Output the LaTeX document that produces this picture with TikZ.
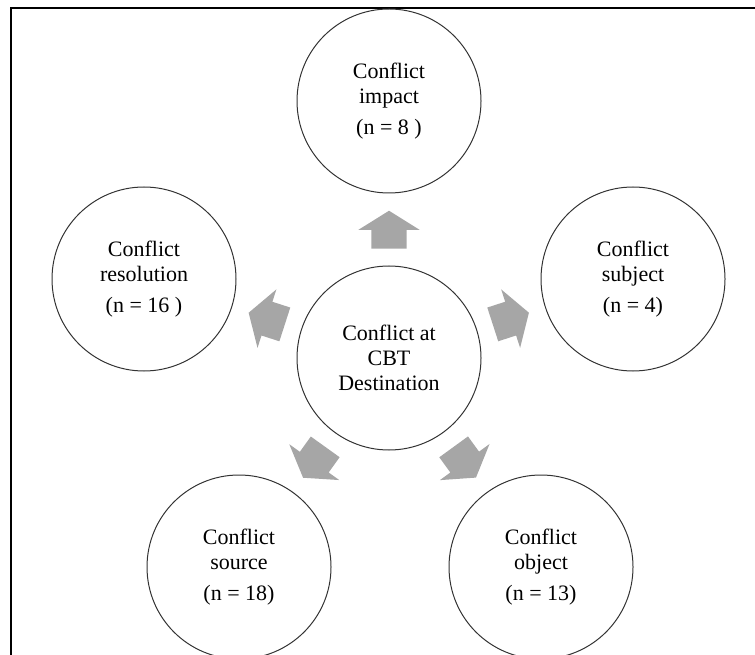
\documentclass[tikz,border=0pt]{standalone}
\usepackage{fontspec}
\setmainfont{Liberation Serif}
\usetikzlibrary{positioning,calc,shapes.arrows}
\definecolor{arrowgray}{HTML}{A6A6A6}
\definecolor{ringgray}{HTML}{333333}

\begin{document}
\begin{tikzpicture}[x=0.75pt,y=-0.75pt,
  every node/.style={font=\fontsize{16.5}{18.75}\selectfont},
  topic/.style={circle,draw=ringgray,line width=0.75pt,minimum size=138pt,align=center,inner sep=0pt},
  flow/.style={single arrow,fill=arrowgray,draw=none,minimum height=28.5pt,inner xsep=0pt,inner ysep=13.1pt,single arrow head extend=9.75pt,single arrow tip angle=116,sloped,allow upside down,pos=0.42}]
\useasboundingbox (0,0) rectangle (755,655);
\clip (0,0) rectangle (755,655);
% outer frame
\draw[line width=1pt] (11,700) -- (11,8) -- (800,8);
% circles
\node[topic] (ctr) at (389,358) {Conflict at\\CBT\\Destination};
\node[topic] (impact) at (389,101) {Conflict\\impact\\[5pt](n = 8 )};
\node[topic] (subject) at (633,279) {Conflict\\subject\\[5pt](n = 4)};
\node[topic] (resol) at (144,279) {Conflict\\resolution\\[5pt](n = 16 )};
\node[topic] (source) at (239,567) {Conflict\\source\\[5pt](n = 18)};
\node[topic] (object) at (541,567) {Conflict\\object\\[5pt](n = 13)};
% block arrows
\path (ctr) -- node[flow] {} (impact);
\path (ctr) -- node[flow] {} (subject);
\path (ctr) -- node[flow] {} (object);
\path (ctr) -- node[flow] {} (source);
\path (ctr) -- node[flow] {} (resol);
\end{tikzpicture}
\end{document}
